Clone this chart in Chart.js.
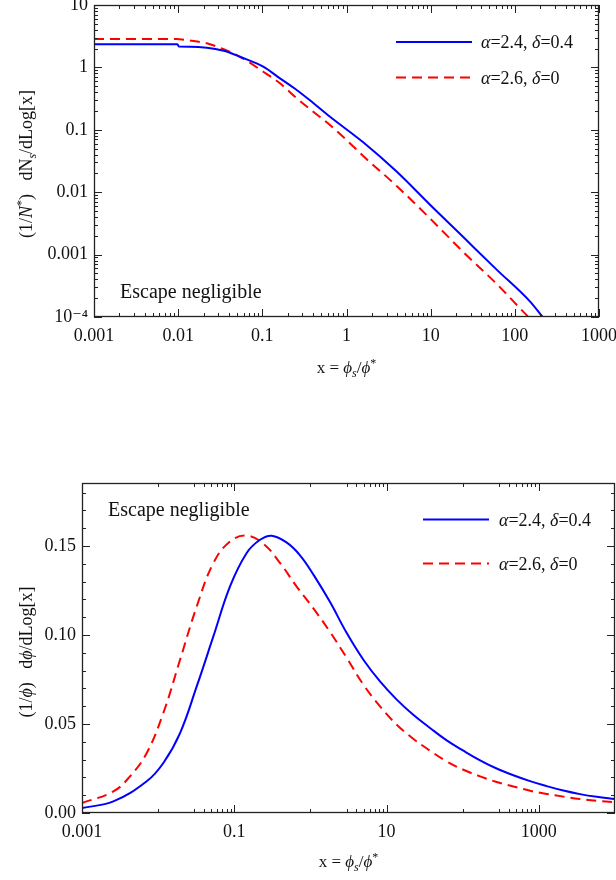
<!DOCTYPE html>
<html>
<head>
<meta charset="utf-8">
<script src="https://cdn.jsdelivr.net/npm/chart.js@4.4.1/dist/chart.umd.min.js"></script>
<style>
  html, body { margin: 0; padding: 0; background: #fff; }
  .panel { position: absolute; left: 0; }
  #topPanel { top: 0; }
  #bottomPanel { top: 460px; }
</style>
</head>
<body>
<div class="panel" id="topPanel"><canvas id="spectrumChart" width="616" height="400" style="width:616px;height:400px"></canvas></div>
<div class="panel" id="bottomPanel"><canvas id="fluxChart" width="616" height="420" style="width:616px;height:420px"></canvas></div>
<script>
const SERIF = '"Liberation Serif", "DejaVu Serif", serif';

const seriesLabels = ['α=2.4, δ=0.4', 'α=2.6, δ=0'];

// top panel: (1/N*) dN_s/dLog[x]
const spectrumBlueX = [0.001, 0.0098, 0.0102, 0.0138, 0.0219, 0.0347, 0.0413, 0.0543, 0.1026, 0.162, 0.256, 0.403, 0.637, 1.58, 3.94, 9.82, 24.4, 60.8, 151, 214];
const spectrumBlueY = [2.34, 2.34, 2.16, 2.15, 2.07, 1.85, 1.72, 1.48, 1.03, 0.667, 0.435, 0.269, 0.162, 0.0631, 0.0214, 0.00631, 0.00191, 0.000575, 0.000178, 0.0001];
const spectrumRedX = [0.001, 0.0095, 0.0138, 0.0219, 0.0347, 0.0543, 0.1026, 0.162, 0.256, 0.403, 0.637, 1.0, 1.58, 3.94, 9.82, 24.4, 60.8, 138, 145];
const spectrumRedY = [2.85, 2.85, 2.69, 2.43, 1.95, 1.48, 0.853, 0.556, 0.32, 0.195, 0.119, 0.0687, 0.038, 0.0126, 0.0038, 0.0011, 0.000339, 0.000107, 0.0001];
const spectrumXTicks = [0.001, 0.01, 0.1, 1, 10, 100, 1000];
const spectrumXLabels = ['0.001', '0.01', '0.1', '1', '10', '100', '1000'];
const spectrumYTicks = [0.0001, 0.001, 0.01, 0.1, 1, 10];
const spectrumYLabels = ['10⁻⁴', '0.001', '0.01', '0.1', '1', '10'];

// bottom panel: (1/phi) dphi/dLog[x]
const fluxBlueX = [0.001, 0.00258, 0.00708, 0.0117, 0.0194, 0.0321, 0.0531, 0.0879, 0.1455, 0.218, 0.31, 0.49, 0.73, 1.1, 1.81, 3.0, 4.96, 8.2, 13.6, 22.4, 37.2, 61.6, 102, 169, 279, 462, 766, 1268, 2094, 3470, 5750, 10000];
const fluxBlueY = [0.0028, 0.0065, 0.0178, 0.0281, 0.0449, 0.0711, 0.0992, 0.1273, 0.1461, 0.1535, 0.1558, 0.1519, 0.1448, 0.1338, 0.1185, 0.1011, 0.0861, 0.0739, 0.0637, 0.0552, 0.0478, 0.0408, 0.035, 0.0296, 0.025, 0.0212, 0.0179, 0.0151, 0.0126, 0.0106, 0.0091, 0.0079];
const fluxRedX = [0.001, 0.00258, 0.00427, 0.00708, 0.0117, 0.0194, 0.0321, 0.0531, 0.0879, 0.1455, 0.241, 0.4, 0.66, 1.1, 1.81, 3.0, 4.96, 8.2, 13.6, 22.4, 37.2, 61.6, 102, 169, 279, 462, 766, 1268, 2094, 3470, 5750, 10000];
const fluxRedY = [0.0056, 0.0121, 0.0206, 0.0337, 0.0562, 0.0861, 0.116, 0.1404, 0.1526, 0.1558, 0.1513, 0.1404, 0.1272, 0.1148, 0.1017, 0.0871, 0.0721, 0.0599, 0.0496, 0.0417, 0.035, 0.029, 0.0243, 0.0206, 0.0174, 0.0149, 0.0125, 0.0107, 0.0092, 0.0079, 0.0069, 0.006];
const fluxXTicks = [0.001, 0.1, 10, 1000];
const fluxXLabels = ['0.001', '0.1', '10', '1000'];
const fluxYTicks = [0, 0.05, 0.1, 0.15];
const fluxYLabels = ['0.00', '0.05', '0.10', '0.15'];

function points(xs, ys) {
    return xs.map((x, i) => ({ x: x, y: ys[i] }));
}

function logMinors(from, to) {
    const out = [];
    for (let d = from; d < to * 0.999; d *= 10) {
        for (let m = 2; m <= 9; m++) out.push(d * m);
    }
    return out;
}

// split a label so greek letters come out italic
function greekRuns(str) {
    const runs = [];
    for (const ch of str) {
        const it = /[\u0370-\u03ff]/.test(ch) ? 'i' : '';
        const last = runs[runs.length - 1];
        if (last && last[1] === it) last[0] += ch;
        else runs.push([ch, it]);
    }
    return runs;
}

function drawRich(ctx, segs, x, y, size, align) {
    const parts = segs.map(([t, st]) => {
        const small = st === 'sub' || st === 'isub' || st === 'sup';
        const fs = small ? Math.round(size * 0.68) : size;
        const font = (st === 'i' || st === 'isub' ? 'italic ' : '') + fs + 'px ' + SERIF;
        ctx.font = font;
        const dy = (st === 'sub' || st === 'isub') ? size * 0.22 : st === 'sup' ? -size * 0.38 : 0;
        return { t, font, dy, w: ctx.measureText(t).width };
    });
    const total = parts.reduce((s, p) => s + p.w, 0);
    let cx = align === 'center' ? x - total / 2 : x;
    ctx.textAlign = 'left';
    ctx.textBaseline = 'alphabetic';
    parts.forEach(p => {
        ctx.font = p.font;
        ctx.fillText(p.t, cx, y + p.dy);
        cx += p.w;
    });
}

const decorations = {
    id: 'decorations',
    afterDatasetsDraw(chart, args, opts) {
        const { ctx, chartArea: a, scales: { x, y } } = chart;
        ctx.save();
        ctx.strokeStyle = '#222';
        ctx.lineWidth = 1;
        ctx.beginPath();
        opts.xMajor.concat(opts.xMinor).forEach((v, i) => {
            const len = i < opts.xMajor.length ? 8 : 4;
            const px = Math.round(x.getPixelForValue(v)) + 0.5;
            ctx.moveTo(px, a.bottom); ctx.lineTo(px, a.bottom - len);
            ctx.moveTo(px, a.top); ctx.lineTo(px, a.top + len);
        });
        opts.yMajor.concat(opts.yMinor).forEach((v, i) => {
            const len = i < opts.yMajor.length ? 8 : 4;
            const py = Math.round(y.getPixelForValue(v)) + 0.5;
            ctx.moveTo(a.left, py); ctx.lineTo(a.left + len, py);
            ctx.moveTo(a.right, py); ctx.lineTo(a.right - len, py);
        });
        ctx.stroke();
        ctx.lineWidth = 1.3;
        ctx.strokeRect(Math.round(a.left) + 0.5, Math.round(a.top) + 0.5,
            Math.round(a.right - a.left) - 1, Math.round(a.bottom - a.top) - 1);

        ctx.fillStyle = '#111';
        drawRich(ctx, [['Escape negligible', '']], opts.note.x, opts.note.y, 20, 'left');
        drawRich(ctx, opts.xTitle, (a.left + a.right) / 2, opts.xTitleY, 17, 'center');
        ctx.save();
        ctx.translate(opts.yTitle.x, opts.yTitle.y);
        ctx.rotate(-Math.PI / 2);
        drawRich(ctx, opts.yTitle.segs, 0, 0, 18, 'center');
        ctx.restore();

        // legend
        chart.data.datasets.forEach((ds, i) => {
            const ly = opts.legend.y[i];
            ctx.save();
            ctx.strokeStyle = ds.borderColor;
            ctx.lineWidth = ds.borderWidth;
            ctx.setLineDash(ds.borderDash || []);
            ctx.beginPath();
            ctx.moveTo(opts.legend.x1, ly);
            ctx.lineTo(opts.legend.x2, ly);
            ctx.stroke();
            ctx.restore();
            drawRich(ctx, greekRuns(ds.label), opts.legend.tx, ly + 6, 18, 'left');
        });
        ctx.restore();
    }
};

function tickFont() {
    return { family: SERIF, size: 18 };
}

function makeChart(id, cfg) {
    const ctx = document.getElementById(id).getContext('2d');
    const canvasH = ctx.canvas.height;
    const curve = cfg.monotone ? { cubicInterpolationMode: 'monotone' } : { tension: 0.4 };
    return new Chart(ctx, {
        type: 'line',
        data: {
            datasets: [
                Object.assign({
                    label: seriesLabels[0],
                    data: points(cfg.blueX, cfg.blueY),
                    borderColor: '#0000ff',
                    borderWidth: 2,
                    pointRadius: 0,
                    fill: false
                }, curve),
                Object.assign({
                    label: seriesLabels[1],
                    data: points(cfg.redX, cfg.redY),
                    borderColor: '#ff0000',
                    borderWidth: 2,
                    borderDash: [10, 6],
                    pointRadius: 0,
                    fill: false
                }, curve)
            ]
        },
        options: {
            responsive: false,
            animation: false,
            events: [],
            layout: { padding: { top: cfg.area.top, right: 616 - cfg.area.right, left: 0, bottom: 0 } },
            plugins: {
                legend: { display: false },
                tooltip: { enabled: false },
                decorations: cfg.deco
            },
            scales: {
                x: {
                    type: 'logarithmic',
                    min: cfg.xMin,
                    max: cfg.xMax,
                    grid: { display: false, drawTicks: false },
                    border: { display: false },
                    afterBuildTicks: scale => { scale.ticks = cfg.xTicks.map(v => ({ value: v })); },
                    afterFit: scale => {
                        scale.height = canvasH - cfg.area.bottom;
                        scale.paddingLeft = 0;
                        scale.paddingRight = 0;
                    },
                    ticks: {
                        font: tickFont(),
                        color: '#111',
                        padding: 8,
                        maxRotation: 0,
                        autoSkip: false,
                        callback: (v, i) => cfg.xLabels[i]
                    }
                },
                y: {
                    type: cfg.yType,
                    min: cfg.yMin,
                    max: cfg.yMax,
                    grid: { display: false, drawTicks: false },
                    border: { display: false },
                    afterBuildTicks: scale => { scale.ticks = cfg.yTicks.map(v => ({ value: v })); },
                    afterFit: scale => {
                        scale.width = cfg.area.left;
                        scale.paddingTop = 0;
                        scale.paddingBottom = 0;
                    },
                    ticks: {
                        font: tickFont(),
                        color: '#111',
                        padding: 6,
                        autoSkip: false,
                        callback: (v, i) => cfg.yLabels[i]
                    }
                }
            }
        },
        plugins: [decorations]
    });
}

const fluxYMinor = [];
for (let k = 1; k <= 18; k++) if (k % 5 !== 0) fluxYMinor.push(k / 100);
const fluxXMinor = [];
[0.01, 1, 100].forEach(d => {
    fluxXMinor.push(d);
    for (let m = 3; m <= 9; m++) fluxXMinor.push(d * m);
});

makeChart('spectrumChart', {
    blueX: spectrumBlueX, blueY: spectrumBlueY,
    redX: spectrumRedX, redY: spectrumRedY,
    monotone: true,
    xMin: 0.001, xMax: 1000, xTicks: spectrumXTicks, xLabels: spectrumXLabels,
    yType: 'logarithmic', yMin: 0.0001, yMax: 10, yTicks: spectrumYTicks, yLabels: spectrumYLabels,
    area: { left: 94, top: 5, right: 599, bottom: 317 },
    deco: {
        xMajor: spectrumXTicks, xMinor: logMinors(0.001, 1000),
        yMajor: spectrumYTicks, yMinor: logMinors(0.0001, 10),
        note: { x: 120, y: 298 },
        xTitle: [['x = ', ''], ['ϕ', 'i'], ['s', 'isub'], ['/', ''], ['ϕ', 'i'], ['*', 'sup']],
        xTitleY: 373,
        yTitle: { x: 32, y: 164, segs: [['(1/', ''], ['N', 'i'], ['*', 'sup'], [')   dN', ''], ['s', 'isub'], ['/dLog[x]', '']] },
        legend: { x1: 396, x2: 472, tx: 481, y: [42, 77.5] }
    }
});

makeChart('fluxChart', {
    blueX: fluxBlueX, blueY: fluxBlueY,
    redX: fluxRedX, redY: fluxRedY,
    monotone: false,
    xMin: 0.001, xMax: 10000, xTicks: fluxXTicks, xLabels: fluxXLabels,
    yType: 'linear', yMin: 0, yMax: 0.1854, yTicks: fluxYTicks, yLabels: fluxYLabels,
    area: { left: 82, top: 23, right: 615, bottom: 353 },
    deco: {
        xMajor: fluxXTicks, xMinor: fluxXMinor,
        yMajor: fluxYTicks, yMinor: fluxYMinor,
        note: { x: 108, y: 56 },
        xTitle: [['x = ', ''], ['ϕ', 'i'], ['s', 'isub'], ['/', ''], ['ϕ', 'i'], ['*', 'sup']],
        xTitleY: 407,
        yTitle: { x: 32, y: 192, segs: [['(1/', ''], ['ϕ', 'i'], [')   d', ''], ['ϕ', 'i'], ['/dLog[x]', '']] },
        legend: { x1: 423, x2: 489, tx: 499, y: [59.5, 103.5] }
    }
});
</script>
</body>
</html>
